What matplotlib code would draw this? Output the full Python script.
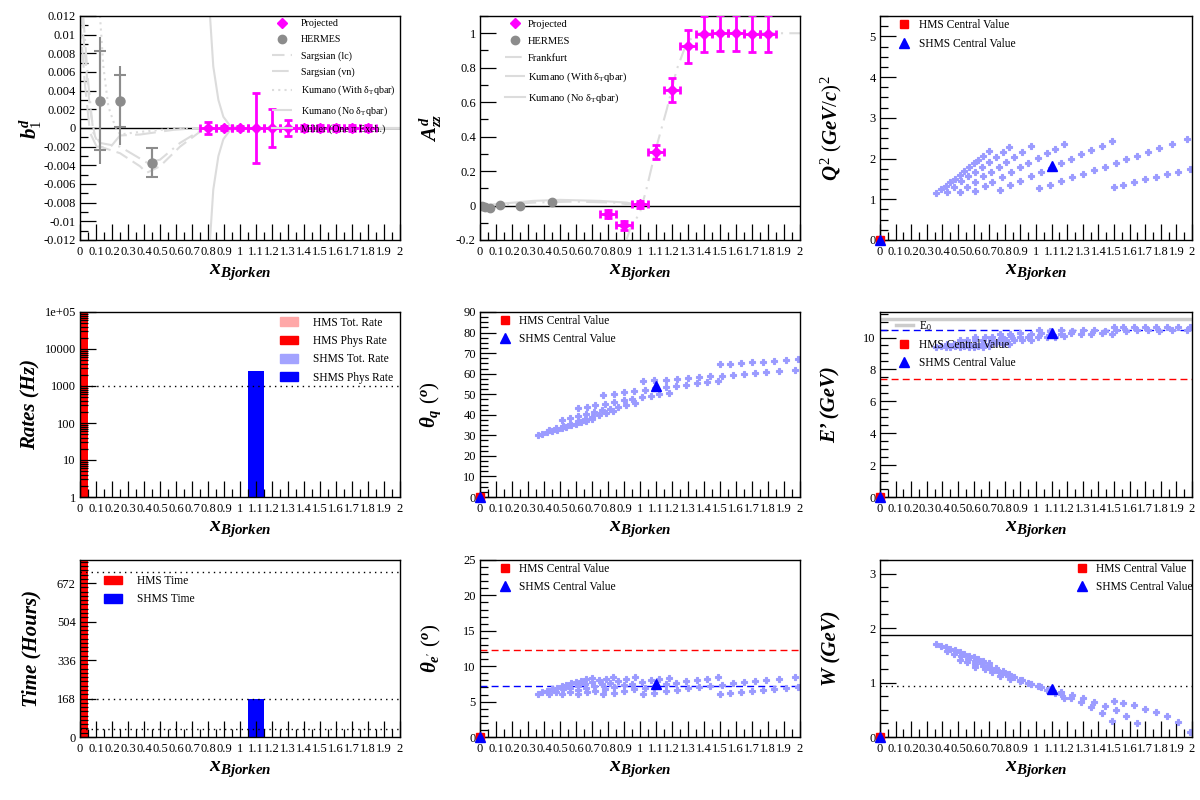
import numpy as np
import matplotlib
matplotlib.use("Agg")
import matplotlib.pyplot as plt
from matplotlib.lines import Line2D
from matplotlib.patches import Patch
from matplotlib.ticker import MultipleLocator, FuncFormatter, LogLocator, NullFormatter, FixedLocator

plt.rcParams["font.family"] = ["Liberation Serif", "DejaVu Serif"]
plt.rcParams["mathtext.fontset"] = "custom"
plt.rcParams["mathtext.rm"] = "Liberation Serif"
plt.rcParams["mathtext.it"] = "Liberation Serif:italic:bold"
plt.rcParams["mathtext.bf"] = "Liberation Serif:bold"

# ---------------- b1 / Azz data ----------------
proj_x = [0.8, 0.9, 1.0, 1.1, 1.2, 1.3, 1.4, 1.5, 1.6, 1.7, 1.8]
proj_xerr = [0.05] * 11
b1_proj = [0.0, 0.0, 0.0, 0.0, 0.0, 0.0, 0.0, 0.0, 0.0, 0.0, 0.0]
b1_proj_err = [0.0006, 0.0002, 0.0002, 0.0037, 0.002, 0.0009, 0.0003, 0.0003, 0.0003, 0.0003, 0.0003]
azz_proj = [-0.05, -0.115, 0.008, 0.31, 0.672, 0.925, 0.995, 1.003, 1.003, 0.998, 0.998]
azz_proj_err = [0.025, 0.025, 0.02, 0.04, 0.07, 0.095, 0.105, 0.105, 0.105, 0.105, 0.105]

hermes_b1_x = [0.128, 0.248, 0.452]
hermes_b1 = [0.0029, 0.0029, -0.0037]
hermes_b1_stat = [0.0053, 0.0028, 0.0016]
hermes_b1_tot_up = [0.0069, 0.0037, 0.0016]
hermes_b1_tot_dn = [0.0068, 0.0047, 0.0016]

hermes_azz_x = [0.012, 0.032, 0.063, 0.128, 0.248, 0.452]
hermes_azz = [-0.002, -0.006, -0.012, 0.002, -0.002, 0.021]
hermes_azz_err = [0.008, 0.008, 0.008, 0.006, 0.006, 0.008]

# theory curves (b1)
sarg_lc_x = [0.01, 0.0375, 0.0625, 0.094, 0.125, 0.25, 0.375, 0.417, 0.5, 0.625, 0.75, 0.83]
sarg_lc_y = [0.012, 0.0066, 0.002, -0.0009, -0.002, -0.0027, -0.0041, -0.0048, -0.0041, -0.002, -0.0004, 0.0]
sarg_vn_x = [0.02, 0.052, 0.083, 0.125, 0.25, 0.417, 0.5, 0.625, 0.75, 0.83]
sarg_vn_y = [0.012, 0.0048, -0.0005, -0.0016, -0.002, -0.0037, -0.0034, -0.0016, -0.0003, 0.0]
kum_with_x = [0.125, 0.146, 0.177, 0.219, 0.25, 0.333, 0.5, 0.667, 0.8]
kum_with_y = [0.012, 0.0066, 0.0023, 0.0002, -0.0007, -0.0005, -0.0002, 0.0, 0.0]
kum_no_x = [0.0, 0.03, 0.0625, 0.104, 0.1875, 0.25, 0.375, 0.583, 0.75]
kum_no_y = [0.0118, 0.0048, -0.0005, -0.002, -0.0021, -0.0008, -0.0007, -0.0002, 0.0]
miller_x = [0.8125, 0.833, 0.865, 0.896, 0.9375, 1.0, 2.0]
miller_up = [0.012, 0.0066, 0.003, 0.0012, 0.00025, 0.0, 0.0]
miller_dn = [-0.012, -0.0066, -0.003, -0.0012, -0.00025, 0.0, 0.0]

# theory curves (Azz)
frank_x = [0.917, 0.9375, 1.0, 1.04, 1.104, 1.167, 1.229, 1.29, 1.354, 2.0]
frank_y = [-0.195, -0.137, -0.04, 0.094, 0.345, 0.557, 0.788, 0.94, 1.0, 1.0]
kum_with_azz_x = [0.0, 0.333, 0.583, 0.833, 1.0]
kum_with_azz_y = [0.0, 0.017, 0.023, 0.017, 0.0]
kum_no_azz_x = [0.0, 0.125, 0.333, 0.5, 0.75, 0.917, 1.0]
kum_no_azz_y = [0.0, 0.01, 0.027, 0.033, 0.027, 0.017, 0.0]

# ---------------- kinematic coverage ----------------
x_kin = [
    0.36, 0.39, 0.42, 0.45, 0.48, 0.51, 0.54, 0.57, 0.60, 0.63, 0.66, 0.70,
    0.43, 0.475, 0.52, 0.565, 0.61, 0.655, 0.70, 0.745, 0.79, 0.83,
    0.51, 0.56, 0.61, 0.66, 0.71, 0.76, 0.81, 0.86, 0.91, 0.97,
    0.61, 0.67, 0.72, 0.78, 0.84, 0.90, 0.95, 1.01, 1.07, 1.12, 1.18,
    0.77, 0.835, 0.90, 0.965, 1.03, 1.095, 1.16, 1.225, 1.29, 1.355, 1.42, 1.49,
    1.02, 1.09, 1.16, 1.23, 1.30, 1.37, 1.44, 1.51, 1.58, 1.65, 1.72, 1.79, 1.87, 1.97,
    1.50, 1.56, 1.63, 1.70, 1.77, 1.84, 1.91, 1.99,
]
q2_kin = [
    1.15, 1.24, 1.33, 1.42, 1.51, 1.60, 1.69, 1.79, 1.88, 1.97, 2.06, 2.18,
    1.19, 1.31, 1.44, 1.56, 1.68, 1.80, 1.92, 2.04, 2.16, 2.28,
    1.19, 1.31, 1.43, 1.56, 1.68, 1.80, 1.92, 2.04, 2.16, 2.31,
    1.21, 1.33, 1.43, 1.55, 1.67, 1.79, 1.89, 2.01, 2.13, 2.23, 2.35,
    1.23, 1.34, 1.45, 1.56, 1.66, 1.77, 1.88, 1.99, 2.10, 2.21, 2.31, 2.43,
    1.27, 1.36, 1.45, 1.54, 1.63, 1.71, 1.80, 1.89, 1.98, 2.07, 2.16, 2.25, 2.35, 2.48,
    1.30, 1.36, 1.42, 1.49, 1.55, 1.61, 1.68, 1.75,
]
theta_q_kin = [
    30.0, 30.7, 31.4, 32.1, 32.8, 33.5, 34.2, 34.9, 35.6, 36.3, 37.0, 37.9,
    32.6, 33.6, 34.7, 35.7, 36.8, 37.8, 38.9, 39.9, 41.0, 41.9,
    37.6, 38.5, 39.4, 40.3, 41.2, 42.1, 43.0, 43.9, 44.8, 45.9,
    43.1, 43.9, 44.6, 45.4, 46.2, 47.0, 47.7, 48.5, 49.3, 50.0, 50.8,
    49.6, 50.2, 50.9, 51.5, 52.1, 52.8, 53.4, 54.0, 54.7, 55.3, 55.9, 56.6,
    56.3, 56.7, 57.1, 57.5, 57.9, 58.3, 58.7, 59.1, 59.5, 59.9, 60.3, 60.7, 61.2, 61.8,
    64.5, 64.8, 65.1, 65.5, 65.8, 66.2, 66.6, 67.0,
]
eprime_kin = [
    9.42, 9.44, 9.41, 9.43, 9.45, 9.42, 9.44, 9.41, 9.43, 9.45, 9.42, 9.44,
    9.58, 9.61, 9.59, 9.62, 9.60, 9.58, 9.61, 9.63, 9.59, 9.60,
    9.85, 9.83, 9.86, 9.84, 9.87, 9.85, 9.83, 9.86, 9.84, 9.86,
    10.05, 10.03, 10.06, 10.04, 10.07, 10.05, 10.03, 10.06, 10.04, 10.05, 10.07,
    10.25, 10.23, 10.26, 10.24, 10.27, 10.25, 10.23, 10.26, 10.24, 10.25, 10.27, 10.24,
    10.44, 10.42, 10.45, 10.43, 10.46, 10.44, 10.42, 10.45, 10.43, 10.44, 10.46, 10.43, 10.45, 10.44,
    10.65, 10.63, 10.66, 10.64, 10.67, 10.65, 10.63, 10.66,
]
theta_e_kin = [
    6.08, 6.31, 6.53, 6.75, 6.96, 7.17, 7.36, 7.58, 7.77, 7.95, 8.13, 8.36,
    6.11, 6.41, 6.72, 6.99, 7.26, 7.51, 7.76, 8.00, 8.23, 8.45,
    6.04, 6.33, 6.62, 6.91, 7.17, 7.42, 7.67, 7.90, 8.13, 8.41,
    6.03, 6.32, 6.55, 6.82, 7.08, 7.33, 7.53, 7.77, 8.00, 8.18, 8.40,
    6.01, 6.28, 6.53, 6.77, 6.99, 7.21, 7.44, 7.65, 7.86, 8.06, 8.24, 8.45,
    6.06, 6.27, 6.47, 6.67, 6.86, 7.03, 7.21, 7.39, 7.56, 7.73, 7.90, 8.06, 8.24, 8.46,
    6.07, 6.21, 6.34, 6.50, 6.62, 6.75, 6.90, 7.04,
]
nan = np.nan
w_kin = [
    1.71, 1.68, 1.65, 1.62, 1.59, 1.56, 1.52, 1.49, 1.46, 1.43, 1.39, 1.35,
    1.57, 1.53, 1.49, 1.44, 1.40, 1.35, 1.31, 1.26, 1.21, 1.16,
    1.42, 1.38, 1.34, 1.30, 1.25, 1.20, 1.15, 1.10, 1.05, 0.98,
    1.29, 1.24, 1.20, 1.15, 1.10, 1.04, 0.99, 0.93, 0.86, 0.80, 0.72,
    1.12, 1.07, 1.02, 0.97, 0.91, 0.85, 0.79, 0.72, 0.64, 0.55, 0.44, 0.29,
    0.93, 0.88, 0.83, 0.77, 0.71, 0.65, 0.57, 0.49, 0.39, 0.25, nan, nan, nan, nan,
    0.67, 0.63, 0.58, 0.52, 0.45, 0.38, 0.28, 0.10,
]

# central values: [x, Q2, theta_q, E', theta_e, W]
hms_central = [0.0, 0.0, 0.0, 0.0, 0.0, 0.0]
shms_central = [1.1, 1.82, 54.0, 10.27, 7.45, 0.88]

# reference lines
beam_energy = 11.15
hms_eprime, shms_eprime = 7.40, 10.46
hms_theta, shms_theta = 12.25, 7.27
deuteron_mass, proton_mass = 1.87, 0.94

# rates / time
bar_x = [0.0, 1.1]
hms_tot_rate, hms_phys_rate = 3e6, 1.5e6
shms_tot_rate, shms_phys_rate = 2600, 2600
rate_line = 1000
hms_time, shms_time = 5000, 168
time_lines = [720, 168, 36]

MAG = "#ff00ff"
GRAY = "#8c8c8c"
THEORY = "#dcdcdc"
KIN = "#9b9bff"

fig = plt.figure(figsize=(12, 8), dpi=100)
col_left = [80, 480, 880]
col_width = [320, 320, 312]
row_top = [16, 312, 560]
row_bottom = [240, 497, 737]


def panel(col, row):
    l = col_left[col]
    w = col_width[col]
    ax = fig.add_axes([l / 1200, 1 - row_bottom[row] / 800, w / 1200,
                       (row_bottom[row] - row_top[row]) / 800])
    ax.set_xlim(0, 2)
    ax.xaxis.set_major_locator(MultipleLocator(0.1))
    ax.xaxis.set_minor_locator(MultipleLocator(0.05))
    ax.xaxis.set_major_formatter(FuncFormatter(lambda v, p: "%g" % (round(v, 3) + 0.0)))
    ax.tick_params(which="both", direction="in", top=False, right=False,
                   labelsize=9, width=0.9)
    ax.tick_params(which="major", length=11.5)
    ax.tick_params(which="minor", length=5.8)
    ax.tick_params(axis="x", pad=4)
    ax.tick_params(axis="y", pad=3)
    for s in ax.spines.values():
        s.set_linewidth(1.0)
    h = row_bottom[row] - row_top[row]
    ax.text(0.5, -32 / h, r"$x_{Bjorken}$", transform=ax.transAxes,
            ha="center", va="center", fontsize=15.5)
    return ax


def ylab(ax, text, col, plain=False):
    kw = dict(rotation=90, ha="center", va="center", transform=ax.transAxes, fontsize=15)
    if plain:
        kw.update(fontweight="bold", fontstyle="italic")
    ax.text(-49 / col_width[col], 0.5, text, **kw)


def yfmt(ax, major, minor, nd=4):
    ax.yaxis.set_major_locator(MultipleLocator(major))
    ax.yaxis.set_minor_locator(MultipleLocator(minor))
    ax.yaxis.set_major_formatter(FuncFormatter(lambda v, p: "%g" % (round(v, nd) + 0.0)))


def central(ax, idx):
    ax.plot([hms_central[0]], [hms_central[idx]], "s", color="red", ms=6, clip_on=False, zorder=5)
    ax.plot([hms_central[0]], [hms_central[idx]], "^", color="blue", ms=7, clip_on=False, zorder=6)
    ax.plot([shms_central[0]], [shms_central[idx]], "^", color="blue", ms=7.5, zorder=6)


def central_legend(ax, x0, y0, extra=None, spacing=0.55):
    hs = [Line2D([], [], ls="none", marker="s", color="red", ms=6),
          Line2D([], [], ls="none", marker="^", color="blue", ms=7)]
    ls = ["HMS Central Value", "SHMS Central Value"]
    if extra is not None:
        hs = [extra[0]] + hs
        ls = [extra[1]] + ls
    ax.legend(hs, ls, loc="upper left", bbox_to_anchor=(x0, y0), frameon=False,
              fontsize=8.3, handlelength=1.5, handletextpad=0.5, labelspacing=spacing,
              borderpad=0, borderaxespad=0)


def kin_points(ax, values):
    ax.plot(x_kin, values, "P", color=KIN, ms=5, mec=KIN, mew=0.8)


# ---------------- b1 ----------------
ax = panel(0, 0)
ax.set_ylim(-0.012, 0.012)
yfmt(ax, 0.002, 0.001)
ax.axhline(0, color="black", lw=1)
ax.plot(sarg_lc_x, sarg_lc_y, color=THEORY, lw=1.5, ls=(0, (6, 3)))
ax.plot(sarg_vn_x, sarg_vn_y, color=THEORY, lw=1.5, ls=(0, (8, 3, 1, 3)))
ax.plot(kum_with_x, kum_with_y, color=THEORY, lw=1.5, ls=(0, (1, 2)))
ax.plot(kum_no_x, kum_no_y, color=THEORY, lw=1.5, ls=(0, (10, 4)))
ax.plot(miller_x, miller_up, color=THEORY, lw=1.5)
ax.plot(miller_x, miller_dn, color=THEORY, lw=1.5)
ax.errorbar(hermes_b1_x, hermes_b1, yerr=[hermes_b1_tot_dn, hermes_b1_tot_up], fmt="none",
            ecolor=GRAY, elinewidth=1.5)
ax.errorbar(hermes_b1_x, hermes_b1, yerr=hermes_b1_stat, fmt="o", color=GRAY, ms=6.5,
            elinewidth=1.5, capsize=4, capthick=1.5)
ax.errorbar(proj_x, b1_proj, xerr=proj_xerr, yerr=b1_proj_err, fmt="D", color=MAG, ms=5,
            elinewidth=2, capsize=3, capthick=2, zorder=4)
ylab(ax, r"$b_{\mathit{1}}^{d}$", 0)
hs = [Line2D([], [], ls="none", marker="D", color=MAG, ms=5),
      Line2D([], [], ls="none", marker="o", color=GRAY, ms=6),
      Line2D([], [], color=THEORY, lw=1.5, ls=(0, (6, 3))),
      Line2D([], [], color=THEORY, lw=1.5, ls=(0, (8, 3, 1, 3))),
      Line2D([], [], color=THEORY, lw=1.5, ls=(0, (1, 2))),
      Line2D([], [], color=THEORY, lw=1.5, ls=(0, (10, 4))),
      Line2D([], [], color=THEORY, lw=1.5)]
ax.legend(hs, ["Projected", "HERMES", "Sargsian (lc)", "Sargsian (vn)",
               r"Kumano (With δ$_\mathrm{T}$qbar)", r"Kumano (No δ$_\mathrm{T}$qbar)",
               "Miller (One π Exch.)"],
          loc="upper left", bbox_to_anchor=(0.60, 0.985), frameon=False, fontsize=7.2,
          handlelength=2.0, handletextpad=0.9, labelspacing=0.68, borderpad=0, borderaxespad=0)

# ---------------- Azz ----------------
ax = panel(1, 0)
ax.set_ylim(-0.2, 1.1)
yfmt(ax, 0.2, 0.1)
ax.axhline(0, color="black", lw=1)
ax.plot(kum_no_azz_x, kum_no_azz_y, color=THEORY, lw=1.5)
ax.plot(kum_with_azz_x, kum_with_azz_y, color=THEORY, lw=1.5, ls=(0, (10, 3, 1, 3)))
ax.plot(frank_x, frank_y, color=THEORY, lw=1.5, ls=(0, (8, 3, 1, 3)))
ax.errorbar(hermes_azz_x, hermes_azz, yerr=hermes_azz_err, fmt="o", color=GRAY, ms=6,
            elinewidth=1.2)
ax.errorbar(proj_x, azz_proj, xerr=proj_xerr, yerr=azz_proj_err, fmt="D", color=MAG, ms=5,
            elinewidth=2, capsize=3, capthick=2, zorder=4)
ylab(ax, r"$A_{zz}^{d}$", 1)
hs = [Line2D([], [], ls="none", marker="D", color=MAG, ms=5),
      Line2D([], [], ls="none", marker="o", color=GRAY, ms=6),
      Line2D([], [], color=THEORY, lw=1.5, ls=(0, (8, 3, 1, 3))),
      Line2D([], [], color=THEORY, lw=1.5, ls=(0, (10, 3, 1, 3))),
      Line2D([], [], color=THEORY, lw=1.5)]
ax.legend(hs, ["Projected", "HERMES", "Frankfurt", r"Kumano (With δ$_\mathrm{T}$qbar)",
               r"Kumano (No δ$_\mathrm{T}$qbar)"],
          loc="upper left", bbox_to_anchor=(0.078, 0.985), frameon=False, fontsize=7.6,
          handlelength=1.9, handletextpad=0.3, labelspacing=0.72, borderpad=0, borderaxespad=0)

# ---------------- Q2 ----------------
ax = panel(2, 0)
ax.set_ylim(0, 5.5)
yfmt(ax, 1, 0.25)
kin_points(ax, q2_kin)
central(ax, 1)
ylab(ax, r"$Q^{\mathit{2}}\ (GeV/c)^{\mathit{2}}$", 2)
central_legend(ax, 0.05, 0.985)

# ---------------- Rates ----------------
ax = panel(0, 1)
ax.set_yscale("log")
ax.set_ylim(1, 1e5)
ax.yaxis.set_major_locator(FixedLocator([1, 10, 100, 1000, 1e4, 1e5]))
ax.yaxis.set_minor_locator(LogLocator(base=10, subs=range(2, 10)))
ax.yaxis.set_minor_formatter(NullFormatter())
ax.yaxis.set_major_formatter(FuncFormatter(
    lambda v, p: {1: "1", 10: "10", 100: "100", 1000: "1000", 10000: "10000"}.get(int(round(v)), "1e+05")))
ax.bar(bar_x, [hms_tot_rate, shms_tot_rate], width=0.1, color=["#ffa8a8", "#a3a3ff"])
ax.bar(bar_x, [hms_phys_rate, shms_phys_rate], width=0.1, color=["red", "blue"])
ax.axhline(rate_line, color="black", lw=1, ls=(0, (1, 3)))
ylab(ax, "Rates (Hz)", 0, plain=True)
hs = [Patch(color="#ffa8a8"), Patch(color="red"), Patch(color="#a3a3ff"), Patch(color="blue")]
ax.legend(hs, ["HMS Tot. Rate", "HMS Phys Rate", "SHMS Tot. Rate", "SHMS Phys Rate"],
          loc="upper left", bbox_to_anchor=(0.625, 0.975), frameon=False, fontsize=8.3,
          handlelength=1.6, handleheight=0.8, handletextpad=1.3, labelspacing=0.55,
          borderpad=0, borderaxespad=0)

# ---------------- theta_q ----------------
ax = panel(1, 1)
ax.set_ylim(0, 90)
yfmt(ax, 10, 2.5)
kin_points(ax, theta_q_kin)
central(ax, 2)
ylab(ax, r"$\theta_{q}\ (^{o})$", 1)
central_legend(ax, 0.05, 0.985)

# ---------------- E' ----------------
ax = panel(2, 1)
ax.set_ylim(0, 11.6)
yfmt(ax, 2, 0.5)
ax.axhline(beam_energy, color="#cccccc", lw=2.5)
ax.axhline(shms_eprime, color="blue", lw=1, ls=(0, (5, 3)))
ax.axhline(hms_eprime, color="red", lw=1, ls=(0, (5, 3)))
kin_points(ax, eprime_kin)
central(ax, 3)
ylab(ax, "E’ (GeV)", 2, plain=True)
central_legend(ax, 0.05, 0.96, extra=(Line2D([], [], color="#cccccc", lw=2.5), r"E$_0$"),
               spacing=0.5)

# ---------------- Time ----------------
ax = panel(0, 2)
ax.set_ylim(0, 772.8)
ax.yaxis.set_major_locator(FixedLocator([0, 168, 336, 504, 672]))
ax.yaxis.set_minor_locator(MultipleLocator(168 / 9))
ax.bar(bar_x, [hms_time, shms_time], width=0.1, color=["red", "blue"])
for v in time_lines:
    ax.axhline(v, color="black", lw=1, ls=(0, (1, 3)))
ylab(ax, "Time (Hours)", 0, plain=True)
ax.legend([Patch(color="red"), Patch(color="blue")], ["HMS Time", "SHMS Time"],
          loc="upper left", bbox_to_anchor=(0.075, 0.915), frameon=False, fontsize=8.3,
          handlelength=1.6, handleheight=0.8, handletextpad=1.3, labelspacing=0.55,
          borderpad=0, borderaxespad=0)

# ---------------- theta_e' ----------------
ax = panel(1, 2)
ax.set_ylim(0, 25)
yfmt(ax, 5, 1)
ax.axhline(hms_theta, color="red", lw=1, ls=(0, (5, 3)))
ax.axhline(shms_theta, color="blue", lw=1, ls=(0, (5, 3)))
kin_points(ax, theta_e_kin)
central(ax, 4)
ylab(ax, r"$\theta_{e'}\ (^{o})$", 1)
central_legend(ax, 0.05, 0.985)

# ---------------- W ----------------
ax = panel(2, 2)
ax.set_ylim(0, 3.25)
yfmt(ax, 1, 0.25)
ax.axhline(deuteron_mass, color="black", lw=1)
ax.axhline(proton_mass, color="black", lw=1, ls=(0, (1, 3)))
kin_points(ax, w_kin)
central(ax, 5)
ylab(ax, "W (GeV)", 2, plain=True)
central_legend(ax, 0.62, 0.985)

fig.savefig("out.png", dpi=100)
